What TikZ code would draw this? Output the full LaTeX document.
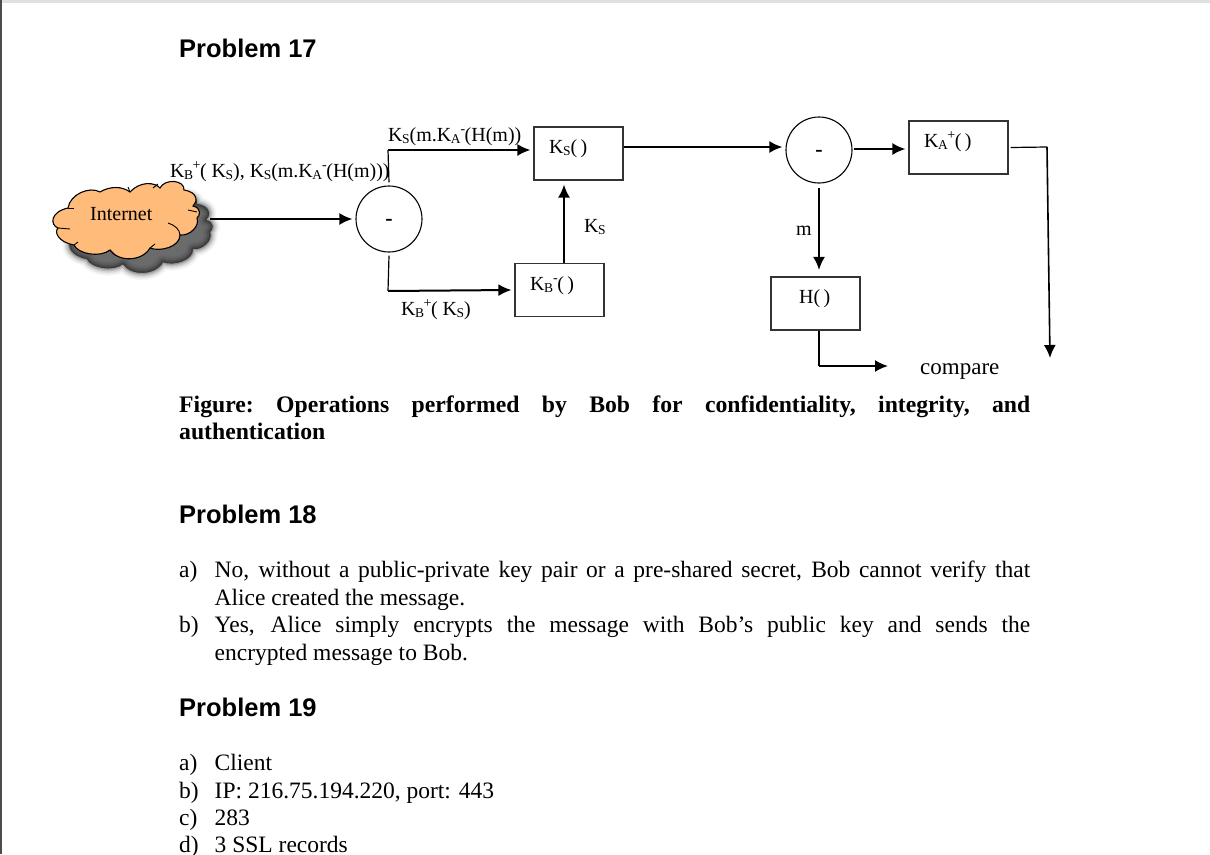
\documentclass[tikz,border=0pt]{standalone}
\usepackage{fontspec}
\setmainfont{Liberation Serif}
\newfontfamily\arialb{Liberation Sans}[BoldFont={Liberation Sans Bold}]
\usetikzlibrary{arrows.meta}
\newcommand{\sK}[1]{K\kern-0.5pt\raisebox{-0.1em}{\fontsize{13.5}{14}\selectfont #1}}
\newcommand{\pl}{\kern-0.5pt\raisebox{0.36em}{\fontsize{14}{14}\selectfont +}\kern-0.5pt}
\newcommand{\mi}{\raisebox{0.36em}{\fontsize{14}{14}\selectfont -}\kern-0.5pt}
\newcommand{\opmin}{\raisebox{-6.5pt}[0pt][0pt]{-}}
\tikzset{
  x=1pt,y=-1pt,
  conn/.style={line width=2pt,black},
  thinconn/.style={line width=1.2pt,black},
  arr/.style={-{Latex[length=13pt,width=12pt]}},
  opbox/.style={draw=black!80,line width=1.1pt,minimum width=89pt,minimum height=53pt,inner sep=0pt},
  opcirc/.style={draw=black,line width=1.1pt,circle,minimum size=66pt,inner sep=0pt,font=\fontsize{22}{22}\selectfont\bfseries},
  lab/.style={inner sep=0pt,font=\fontsize{20}{22}\selectfont,anchor=base west},
  tick/.style={line width=0.9pt,black},
  heading/.style={inner sep=0pt,anchor=base west,font=\arialb\bfseries\fontsize{25.5}{28}\selectfont},
  body/.style={inner sep=0pt,anchor=base west,font=\fontsize{23.5}{28}\selectfont},
  capt/.style={inner sep=0pt,anchor=base west,font=\bfseries\fontsize{23.7}{28}\selectfont},
}
\begin{document}
\begin{tikzpicture}
\useasboundingbox (0,0) rectangle (1210,854);
\fill[white] (0,0) rectangle (1210,854);
\fill[black!12] (0,0) rectangle (1210,3);
\fill[black!70] (0,0) rectangle (1.5,854);
% cloud
\def\cloudpath{(68,208) .. controls (70,194) and (90,186) .. (100,192)
 .. controls (110,186) and (122,186) .. (130,192)
 .. controls (140,181) and (155,182) .. (160,188)
 .. controls (165,178) and (185,180) .. (184,190)
 .. controls (198,192) and (198,202) .. (193,206)
 .. controls (202,208) and (200,216) .. (197,218)
 .. controls (200,226) and (190,236) .. (180,235)
 .. controls (180,247) and (160,252) .. (150,248)
 .. controls (142,262) and (118,262) .. (110,250)
 .. controls (100,258) and (78,254) .. (74,245)
 .. controls (58,242) and (54,232) .. (58,228)
 .. controls (50,225) and (50,212) .. (68,208) -- cycle}
\foreach \w/\o in {15/0.03,12/0.05,9/0.08,6/0.12,3/0.18,0.5/0.3}
  \path[draw=black,fill=black,line join=round,opacity=\o,line width=\w pt,shift={(13,14)}] \cloudpath;
\draw[draw=black,line width=1.1pt,fill={rgb,255:red,255;green,187;blue,122}] \cloudpath;
\draw[tick] (168,223) .. controls (175,225) and (180,230) .. (180,235);
\draw[tick] (58,228) -- (70,229);
\draw[tick] (68,208) -- (74,208);
\draw[tick] (74,245) -- (78,242);
\draw[tick] (110,250) -- (115,255);
\draw[tick] (130,192) -- (128,187);
\draw[tick] (153,188) -- (158,184);
\draw[tick] (188,210) -- (197,212);
\draw[tick] (150,248) -- (155,244);
\node[lab] (inet) at (90,220) {Internet};
\coordinate (cloudout) at (210,219);
% operators
\node[opcirc] (c1) at (389,219) {\opmin};
\node[opcirc] (c2) at (819,150) {\opmin};
\node[opbox] (ks) at (578.5,153.5) {};
\node[opbox] (kb) at (559.5,290) {};
\node[opbox] (h) at (815.5,303.5) {};
\node[opbox,minimum width=99pt] (ka) at (958.5,147.5) {};
\node[lab] (ksl) at (549,153) {\sK{S}(\,)};
\node[lab] (kbl) at (530,290) {\sK{B}\mi(\,)};
\node[lab] (hl) at (799,303) {H(\,)};
\node[lab] (kal) at (924,147) {\sK{A}\pl(\,)};
\node[lab] (l1) at (388,141) {\sK{S}(m.\sK{A}\mi(H(m))};
\node[lab] (l2) at (170,177) {\sK{B}\pl( \sK{S}), \sK{S}(m.\sK{A}\mi(H(m)))};
\node[lab] (l3) at (401,315) {\sK{B}\pl( \sK{S})};
\node[lab] (l4) at (584,232) {\sK{S}};
\node[lab] (l5) at (796,235) {m};
\node[lab,font=\fontsize{23}{23}\selectfont] (cmp) at (920,374) {compare};
\coordinate (rt) at (1047,147);
\coordinate (rb) at (1050,358);
\coordinate (cmpin) at (888,366);
% connectors
\draw[conn,arr] (cloudout) -- ([xshift=-3pt]c1.west);
\draw[thinconn] ([yshift=3pt]c1.north) -- (388,150);
\draw[conn,arr] (388,150) -- ([xshift=-3pt,yshift=3.5pt]ks.west);
\draw[thinconn] ([yshift=-3pt]c1.south) -- (388,291);
\draw[conn,arr] (388,291) -- ([xshift=-3pt]kb.west);
\draw[conn,arr] ([xshift=4.5pt]kb.north) -- ([xshift=-14.5pt,yshift=-4pt]ks.south);
\draw[conn,arr] ([yshift=6.5pt]ks.east) -- ([xshift=-3pt,yshift=3pt]c2.west);
\draw[conn,arr] ([xshift=1pt,yshift=1pt]c2.east) -- ([xshift=-3pt,yshift=-1.5pt]ka.west);
\draw[conn,arr] ([yshift=-4pt]c2.south) -- ([xshift=3.5pt,yshift=6.5pt]h.north);
\draw[thinconn] ([xshift=2pt]ka.east) -- (rt);
\draw[conn,arr,line width=1.6pt] (rt) -- (rb);
\draw[thinconn] ([xshift=3.5pt]h.south) -- (819,366);
\draw[conn,arr] (819,366) -- (cmpin);
% text
\node[heading] (p17) at (179,57) {Problem 17};
\node[capt] (cap1) at (179,412) {\makebox[851pt][s]{Figure:\ \ \ Operations\ \ \ performed\ \ \ by\ \ \ Bob\ \ \ for\ \ \ confidentiality,\ \ \ integrity,\ \ \ and}};
\node[capt] (cap2) at (179,439) {authentication};
\node[heading] (p18) at (179,523) {Problem 18};
\node[body] (a1) at (179,577.5) {a)};
\node[body] (a2) at (214.5,577.5) {\makebox[815.5pt][s]{No, without a public-private key pair or a pre-shared secret, Bob cannot verify that}};
\node[body] (a3) at (214.5,605) {Alice created the message.};
\node[body] (b1) at (179,632.5) {b)};
\node[body] (b2) at (214.5,632.5) {\makebox[815.5pt][s]{Yes, Alice simply encrypts the message with Bob’s public key and sends the}};
\node[body] (b3) at (214.5,660) {encrypted message to Bob.};
\node[heading] (p19) at (179,716) {Problem 19};
\node[body] (c1t) at (179,770) {a)};
\node[body] (c2t) at (214.5,770) {Client};
\node[body] (c3t) at (179,798) {b)};
\node[body] (c4t) at (214.5,798) {IP: 216.75.194.220, port: 443};
\node[body] (c5t) at (179,825) {c)};
\node[body] (c6t) at (214.5,825) {283};
\node[body] (c7t) at (179,852) {d)};
\node[body] (c8t) at (214.5,852) {3 SSL records};
\end{tikzpicture}
\end{document}
